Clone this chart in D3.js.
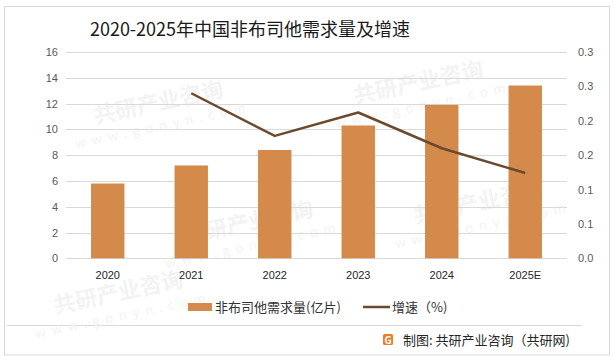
<!DOCTYPE html>
<html>
<head>
<meta charset="utf-8">
<script src="https://cdn.jsdelivr.net/npm/d3@7"></script>
<style>
  body { margin: 0; background: #fff; }
  svg { font-family: "Noto Sans CJK SC", "Noto Sans", sans-serif; }
</style>
</head>
<body>
<script>
// donnees
var annees = ["2020", "2021", "2022", "2023", "2024", "2025E"];
var demande = [5.8, 7.2, 8.4, 10.3, 11.9, 13.4];      // 亿片
var croissance = [null, 0.24, 0.178, 0.212, 0.16, 0.124];
var ticksGauche = [0, 2, 4, 6, 8, 10, 12, 14, 16];
var ticksDroite = [0, 0.05, 0.1, 0.15, 0.2, 0.25, 0.3];
var labelsDroite = ["0.0", "0.1", "0.1", "0.2", "0.2", "0.3", "0.3"];

var larg = 614, haut = 361;
var m = {gauche: 66, droite: 567, haut: 52, bas: 258.3};

var svg = d3.select("body").append("svg")
  .attr("width", larg)
  .attr("height", haut);

// cadre
svg.append("rect").attr("x", 4.5).attr("y", 6.5).attr("width", 605).attr("height", 348.5)
  .attr("fill", "#fff").attr("stroke", "#d9d9d9");
svg.append("line").attr("x1", 7).attr("x2", 582).attr("y1", 325.5).attr("y2", 325.5)
  .attr("stroke", "#d9d9d9");

// filigranes (tres pales)
var wm = svg.append("g").attr("fill", "#f3f3f3").attr("font-weight", "bold");
[[160, 110], [420, 90], [250, 230], [480, 210], [120, 300]].forEach(function(p) {
  var g = wm.append("g").attr("transform", "translate(" + p[0] + "," + p[1] + ") rotate(-12)");
  g.append("text").attr("font-size", 22).attr("text-anchor", "middle").text("共研产业咨询");
  g.append("text").attr("y", 20).attr("font-size", 13).attr("letter-spacing", 6)
    .attr("text-anchor", "middle").attr("font-weight", "normal").text("www.gonyn.com");
});

// titre
svg.append("text").attr("x", 250).attr("y", 36).attr("text-anchor", "middle")
  .attr("font-size", 18).attr("fill", "#1a1a1a").text("2020-2025年中国非布司他需求量及增速");

var x = d3.scaleBand().domain(annees).range([m.gauche, m.droite]).paddingInner(0.6).paddingOuter(0.3);
var xc = d3.scaleBand().domain(annees).range([m.gauche, m.droite]);
var yG = d3.scaleLinear().domain([0, 16]).range([m.bas, m.haut]);
var yD = d3.scaleLinear().domain([0, 0.3]).range([m.bas, m.haut]);

// grille
svg.append("g").selectAll("line").data(ticksGauche).enter().append("line")
  .attr("x1", m.gauche).attr("x2", m.droite)
  .attr("y1", function(d) { return Math.round(yG(d)) + 0.5; })
  .attr("y2", function(d) { return Math.round(yG(d)) + 0.5; })
  .attr("stroke", "#d9d9d9");

// axe gauche
var axeG = svg.append("g").attr("transform", "translate(" + (m.gauche - 8) + ",0)")
  .call(d3.axisLeft(yG).tickValues(ticksGauche).tickSize(0).tickPadding(0));
axeG.select(".domain").remove();
axeG.selectAll("text").attr("font-size", 11).attr("fill", "#595959").attr("font-family", "Liberation Sans, Arial, sans-serif");

// axe droit
var axeD = svg.append("g").attr("transform", "translate(" + (m.droite + 11) + ",0)")
  .call(d3.axisRight(yD).tickValues(ticksDroite).tickSize(0).tickPadding(0)
    .tickFormat(function(d, i) { return labelsDroite[i]; }));
axeD.select(".domain").remove();
axeD.selectAll("text").attr("font-size", 11).attr("fill", "#595959").attr("font-family", "Liberation Sans, Arial, sans-serif");

// axe x
var axeX = svg.append("g").attr("transform", "translate(0," + m.bas + ")")
  .call(d3.axisBottom(xc).tickSize(0).tickPadding(13));
axeX.select(".domain").remove();
axeX.selectAll("text").attr("font-size", 11).attr("fill", "#262626").attr("font-family", "Liberation Sans, Arial, sans-serif");

// barres
svg.selectAll("rect.barre").data(demande).enter().append("rect")
  .attr("class", "barre")
  .attr("x", function(d, i) { return x(annees[i]); })
  .attr("y", function(d) { return yG(d); })
  .attr("width", x.bandwidth())
  .attr("height", function(d) { return yG(0) - yG(d); })
  .attr("fill", "#d38a4b");

// courbe
var ligne = d3.line()
  .defined(function(d) { return d != null; })
  .x(function(d, i) { return xc(annees[i]) + xc.bandwidth() / 2; })
  .y(function(d) { return yD(d); });
svg.append("path").datum(croissance)
  .attr("d", ligne).attr("fill", "none")
  .attr("stroke", "#6b4a2f").attr("stroke-width", 2.5).attr("stroke-linejoin", "round");

// legende
var leg = svg.append("g").attr("font-size", 13).attr("fill", "#333");
leg.append("rect").attr("x", 188).attr("y", 303).attr("width", 24).attr("height", 8).attr("fill", "#d38a4b");
leg.append("text").attr("x", 215).attr("y", 312).text("非布司他需求量(亿片)");
leg.append("line").attr("x1", 363).attr("x2", 390).attr("y1", 307).attr("y2", 307)
  .attr("stroke", "#6b4a2f").attr("stroke-width", 2.5);
leg.append("text").attr("x", 392).attr("y", 312).text("增速（%)");

// source
var src = svg.append("g");
src.append("rect").attr("x", 383).attr("y", 334).attr("width", 10).attr("height", 11).attr("rx", 1.5).attr("fill", "#ef7d2a");
src.append("text").attr("x", 388).attr("y", 343.5).attr("text-anchor", "middle").attr("font-size", 10)
  .attr("font-weight", "bold").attr("fill", "#fff").text("G");
src.append("text").attr("x", 403).attr("y", 345).attr("font-size", 13).attr("fill", "#262626")
  .text("制图: 共研产业咨询（共研网)");
</script>
</body>
</html>
